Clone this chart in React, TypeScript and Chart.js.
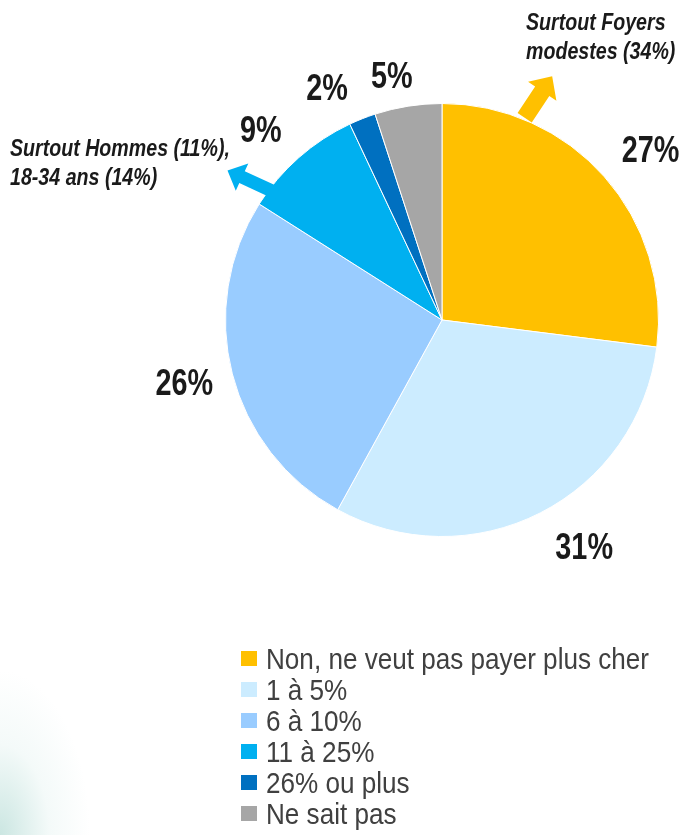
import React, { useEffect, useRef } from "react";
import { Chart, registerables } from "chart.js";

Chart.register(...registerables);

const categories = [
  "Non, ne veut pas payer plus cher",
  "1 à 5%",
  "6 à 10%",
  "11 à 25%",
  "26% ou plus",
  "Ne sait pas",
];
const values = [27, 31, 26, 9, 2, 5];
const valueLabels = ["27%", "31%", "26%", "9%", "2%", "5%"];
const colors = ["#FFC000", "#CCECFF", "#99CCFF", "#00B0F0", "#0070C0", "#A6A6A6"];
const noteYellow = ["Surtout Foyers", "modestes (34%)"];
const noteBlue = ["Surtout Hommes (11%),", "18-34 ans (14%)"];

const FONT = '"Liberation Sans", Arial, sans-serif';
// small hand-placement nudges of the outside labels (style only)
const labelNudge = [
  [5, 1],
  [19, 0],
  [5, 0],
  [-7, 3],
  [-18, 8],
  [-9, 10],
];

function narrowText(ctx: CanvasRenderingContext2D, text: string, x: number, y: number, sx: number) {
  ctx.save();
  ctx.translate(x, y);
  ctx.scale(sx, 1);
  ctx.fillText(text, 0, 0);
  ctx.restore();
}

function drawArrow(ctx: CanvasRenderingContext2D, bx: number, by: number, tx: number, ty: number, shaft: number, head: number, headLen: number, color: string) {
  const dx = tx - bx, dy = ty - by;
  const len = Math.hypot(dx, dy);
  const ux = dx / len, uy = dy / len;
  const px = -uy, py = ux;
  const hx = tx - ux * headLen, hy = ty - uy * headLen;
  ctx.save();
  ctx.fillStyle = color;
  ctx.beginPath();
  ctx.moveTo(bx + px * shaft / 2, by + py * shaft / 2);
  ctx.lineTo(hx + px * shaft / 2, hy + py * shaft / 2);
  ctx.lineTo(hx + px * head / 2, hy + py * head / 2);
  ctx.lineTo(tx, ty);
  ctx.lineTo(hx - px * head / 2, hy - py * head / 2);
  ctx.lineTo(hx - px * shaft / 2, hy - py * shaft / 2);
  ctx.lineTo(bx - px * shaft / 2, by - py * shaft / 2);
  ctx.closePath();
  ctx.fill();
  ctx.restore();
}

const overlayPlugin = {
  id: "overlay",
  afterDraw(chart: any) {
    const ctx: CanvasRenderingContext2D = chart.ctx;
    const meta = chart.getDatasetMeta(0);
    const arcs = meta.data;
    if (!arcs.length) return;
    const cx = arcs[0].x, cy = arcs[0].y, r = arcs[0].outerRadius;

    // value labels (outside end)
    ctx.save();
    ctx.fillStyle = "#1a1a1a";
    ctx.font = `bold 36px ${FONT}`;
    ctx.textAlign = "center";
    ctx.textBaseline = "middle";
    const sx = 0.8;
    arcs.forEach((arc: any, i: number) => {
      const mid = (arc.startAngle + arc.endAngle) / 2;
      const w = ctx.measureText(valueLabels[i]).width * sx;
      const h = 28;
      const d = r + 26;
      const x = cx + Math.cos(mid) * d + Math.cos(mid) * w / 2 + labelNudge[i][0];
      const y = cy + Math.sin(mid) * d + Math.sin(mid) * h / 2 + labelNudge[i][1];
      narrowText(ctx, valueLabels[i], x, y + 1, sx);
    });
    ctx.restore();

    // yellow arrow from the first slice's edge
    const a0 = arcs[0].startAngle + 0.388;
    const ybx = cx + Math.cos(a0) * (r + 2), yby = cy + Math.sin(a0) * (r + 2);
    drawArrow(ctx, ybx, yby, ybx + 27.5, yby - 41.5, 17, 34, 18, colors[0]);

    // blue arrow from the 11-25% slice
    const a3 = arcs[3].startAngle + 0.09;
    const bbx = cx + Math.cos(a3) * (r - 9), bby = cy + Math.sin(a3) * (r - 9);
    drawArrow(ctx, bbx, bby, bbx - 50, bby - 23, 13, 30, 16, colors[3]);

    // notes
    ctx.save();
    ctx.fillStyle = "#1a1a1a";
    ctx.font = `bold italic 23.5px ${FONT}`;
    ctx.textAlign = "left";
    ctx.textBaseline = "alphabetic";
    narrowText(ctx, noteYellow[0], 526, 30, 0.835);
    narrowText(ctx, noteYellow[1], 526, 59, 0.835);
    narrowText(ctx, noteBlue[0], 10, 156, 0.835);
    narrowText(ctx, noteBlue[1], 10, 185, 0.835);
    ctx.restore();
  },
};

export default function App() {
  const ref = useRef<HTMLCanvasElement | null>(null);
  useEffect(() => {
    if (!ref.current) return;
    const chart = new Chart(ref.current, {
      type: "pie",
      data: {
        labels: categories,
        datasets: [
          {
            data: values,
            backgroundColor: colors,
            borderColor: "#ffffff",
            borderWidth: 1,
          },
        ],
      },
      options: {
        responsive: false,
        animation: false,
        events: [],
        layout: { padding: { left: 225, top: 103, right: 24, bottom: 298 } },
        plugins: { legend: { display: false }, tooltip: { enabled: false } },
      },
      plugins: [overlayPlugin],
    });
    return () => chart.destroy();
  }, []);

  return (
    <div
      style={{
        position: "absolute",
        left: 0,
        top: 0,
        width: 683,
        height: 835,
        overflow: "hidden",
        background:
          "radial-gradient(ellipse 90px 165px at 0% 100%, rgba(140,200,190,0.45), rgba(200,230,225,0.2) 55%, rgba(255,255,255,0) 100%), #ffffff",
      }}
    >
      <canvas ref={ref} width={683} height={835} style={{ position: "absolute", left: 0, top: 0 }} />
      <div style={{ position: "absolute", left: 241, top: 643, fontFamily: FONT, fontSize: 30, color: "#404040" }}>
        {categories.map((c, i) => (
          <div key={c} style={{ display: "flex", alignItems: "center", height: 31, lineHeight: "31px", whiteSpace: "nowrap" }}>
            <span style={{ display: "inline-block", flex: "none", width: 16, height: 15, background: colors[i], marginRight: 9 }} />
            <span style={{ display: "inline-block", transform: "scaleX(0.87)", transformOrigin: "left center" }}>{c}</span>
          </div>
        ))}
      </div>
    </div>
  );
}
